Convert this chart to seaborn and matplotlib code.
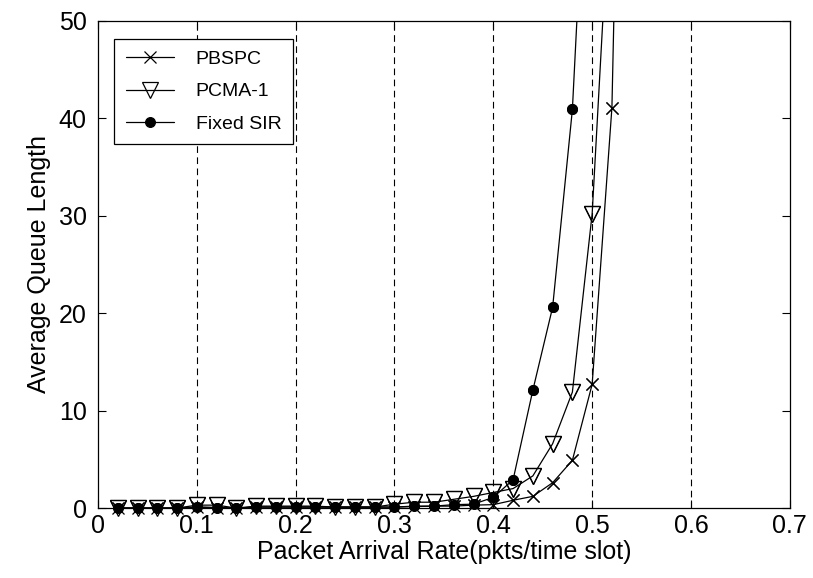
import numpy as np
import pandas as pd
import matplotlib
matplotlib.use("Agg")
import matplotlib.pyplot as plt
import seaborn as sns

# arrival rates (pkts/time slot)
arrival_rate = [0.02, 0.04, 0.06, 0.08, 0.10, 0.12, 0.14, 0.16, 0.18, 0.20,
                0.22, 0.24, 0.26, 0.28, 0.30, 0.32, 0.34, 0.36, 0.38, 0.40,
                0.42, 0.44, 0.46, 0.48, 0.50, 0.52, 0.54]

# average queue length (last points run off the top)
pbspc = [0.0, 0.0, 0.0, 0.0, 0.1, 0.05, 0.0, 0.1, 0.1, 0.1,
         0.1, 0.1, 0.1, 0.1, 0.1, 0.15, 0.2, 0.2, 0.3, 0.35,
         0.8, 1.2, 2.6, 4.9, 12.7, 41.1, 135.0]
pcma1 = [0.0, 0.0, 0.0, 0.0, 0.3, 0.3, 0.0, 0.2, 0.2, 0.2,
         0.2, 0.1, 0.1, 0.1, 0.4, 0.6, 0.6, 0.9, 1.2, 1.6,
         2.0, 3.3, 6.6, 11.9, 30.2, 67.0]
fixed_sir = [0.0, 0.0, 0.0, 0.0, 0.1, 0.05, 0.0, 0.1, 0.1, 0.1,
             0.1, 0.1, 0.1, 0.1, 0.1, 0.2, 0.2, 0.35, 0.4, 1.1,
             2.9, 12.1, 20.6, 40.9, 81.0]

series = [
    ("PBSPC", pbspc, dict(marker="x", markersize=8, markerfacecolor="black")),
    ("PCMA-1", pcma1, dict(marker="v", markersize=11, markerfacecolor="none")),
    ("Fixed SIR", fixed_sir, dict(marker="o", markersize=7, markerfacecolor="black")),
]

sns.set_style("white")
plt.rcParams["font.family"] = ["Liberation Sans", "DejaVu Sans"]
plt.rcParams["text.color"] = "black"
plt.rcParams["axes.labelcolor"] = "black"

fig = plt.figure(figsize=(8.13, 5.78), dpi=100)
ax = fig.add_axes([0.1205, 0.121, 0.851, 0.843])

for name, vals, style in series:
    xs = arrival_rate[:len(vals)]
    # line + markers, clipped at the top of the axes
    sns.lineplot(x=xs, y=vals, ax=ax, color="black",
                 linewidth=0.9, markeredgecolor="black", markeredgewidth=0.9,
                 label=name, **style)
    # markers near zero hang below the axis in the original, so redraw unclipped
    df = pd.DataFrame({"x": xs, "y": vals})
    df = df[df["y"] <= 50]
    sns.lineplot(data=df, x="x", y="y", ax=ax, color="black", linestyle="none",
                 markeredgecolor="black", markeredgewidth=0.9, clip_on=False,
                 legend=False, zorder=3, **style)

ax.set_xlim(0, 0.7)
ax.set_ylim(0, 50)
ax.set_xticks(np.arange(0, 0.71, 0.1))
ax.set_xticklabels(["0", "0.1", "0.2", "0.3", "0.4", "0.5", "0.6", "0.7"])
ax.set_yticks([0, 10, 20, 30, 40, 50])

for xv in [0.1, 0.2, 0.3, 0.4, 0.5, 0.6]:
    ax.axvline(xv, color="black", linewidth=0.8, linestyle=(0, (6, 4)), zorder=0)

ax.tick_params(direction="in", length=6, width=0.8, labelsize=18,
               top=True, right=True, bottom=True, left=True, colors="black")
ax.tick_params(axis="x", pad=4)
ax.tick_params(axis="y", pad=8)
for sp in ax.spines.values():
    sp.set_color("black")
    sp.set_linewidth(0.9)

ax.set_xlabel("Packet Arrival Rate(pkts/time slot)", fontsize=18, labelpad=2)
ax.set_ylabel("Average Queue Length", fontsize=18, labelpad=6)

leg = ax.legend(loc="upper left", fontsize=14, fancybox=False, edgecolor="black",
                framealpha=1, handlelength=2.5, borderpad=0.6, labelspacing=0.75,
                handletextpad=1.1, borderaxespad=0, bbox_to_anchor=(0.023, 0.963))
leg.get_frame().set_linewidth(0.9)

fig.savefig("out.png", dpi=100)
